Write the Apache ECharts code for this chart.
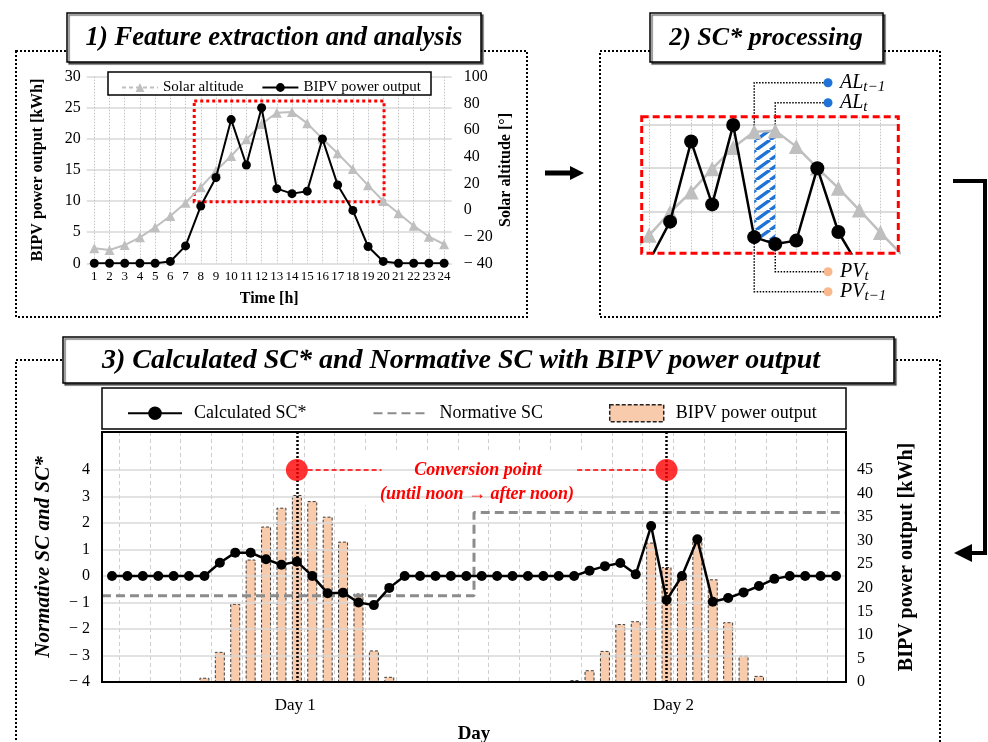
<!DOCTYPE html>
<html><head><meta charset="utf-8">
<script src="https://cdn.jsdelivr.net/npm/echarts@6/dist/echarts.min.js"></script>
<style>html,body{margin:0;padding:0;background:#fff}#c{width:988px;height:742px}</style>
</head><body><div id="c"></div>
<script>
// ---------------- DATA ----------------
// Panel 1: hourly values of one day
const hours = ['1','2','3','4','5','6','7','8','9','10','11','12','13','14','15','16','17','18','19','20','21','22','23','24'];
const solarAltitude = [-28.7,-30,-26.3,-20.5,-13,-4.5,5.5,17,29.5,40.5,53,64.5,73,73.6,65,53.5,42.5,30.7,18.5,6.7,-2.5,-11.8,-20,-25.7];
const bipvHourly = [0,0,0,0,0,0.3,2.8,9.2,13.8,23.1,15.8,25.0,12.0,11.2,11.6,20.0,12.6,8.5,2.7,0.3,0,0,0,0];
// Panel 3: two days, hourly
const scStar = [0,0,0,0,0,0,0,0.5,0.88,0.88,0.63,0.42,0.54,0,-0.65,-0.63,-1.0,-1.1,-0.45,0,0,0,0,0,
                0,0,0,0,0,0,0,0.2,0.37,0.49,0.06,1.88,-0.91,0,1.38,-0.97,-0.83,-0.62,-0.38,-0.11,0,0,0,0];
const bipvDaily = [0,0,0,0,0,0,0.9,6.4,16.6,26.0,33.0,37.0,39.7,38.4,35.1,29.8,18.8,6.7,1.1,0,0,0,0,0,
                   0,0,0,0,0,0,0.4,2.5,6.6,12.3,12.9,29.6,24.4,22.0,30.1,21.8,12.7,5.6,1.3,0,0,0,0,0];
const normativeSC = [-0.75, 2.39];
const dayLabels = ['Day 1','Day 2'];
const conversionHours = [12, 36];
const scTicks = [-4,-3,-2,-1,0,1,2,3,4];

// ---------------- SETTINGS ----------------
const SERIF = '"Liberation Serif", "Times New Roman", serif';
const PV_RANGE = [0, 30], ALT_RANGE = [-40, 100];
const toAlt = v => ALT_RANGE[0] + (v - PV_RANGE[0]) / (PV_RANGE[1]-PV_RANGE[0]) * (ALT_RANGE[1]-ALT_RANGE[0]);
const toPV = a => PV_RANGE[0] + (a - ALT_RANGE[0]) / (ALT_RANGE[1]-ALT_RANGE[0]) * (PV_RANGE[1]-PV_RANGE[0]);
const P2X = [6.65, 18.85], P2Y = [10.13, 25.97];
const X3 = [-0.65, 47.65];
const tPrev = 12, tCur = 13;
const minus = v => v < 0 ? '\u2212 ' + Math.abs(v) : String(v);
const LABELS = {p1sa:'Solar altitude', p1pv:'BIPV power output', sc:'Calculated SC*', norm:'Normative SC', p3bipv:'BIPV power output'};

function hatchCanvas(){
  const c = document.createElement('canvas'); c.width = 14; c.height = 10;
  const g = c.getContext('2d'); g.strokeStyle = '#1f73d6'; g.lineWidth = 3.4;
  g.beginPath();
  for (const o of [-14, 0, 14]) { g.moveTo(o, 10); g.lineTo(o + 14, 0); }
  g.stroke(); return c;
}
const HATCH = hatchCanvas();

const labelStyle = (size) => ({color:'#000', fontFamily:SERIF, fontSize:size});
const nameStyle = (size, italic) => ({color:'#000', fontFamily:SERIF, fontSize:size, fontWeight:'bold', fontStyle: italic ? 'italic' : 'normal'});
const hidden = {axisLine:{show:false}, axisTick:{show:false}, axisLabel:{show:false}};

const normPts = [[X3[0], normativeSC[0]], [23.5, normativeSC[0]], [23.5, normativeSC[1]], [X3[1], normativeSC[1]]];

const chart = echarts.init(document.getElementById('c'));
const option = {
  animation:false,
  backgroundColor:'#fff',
  grid:[
    {left:86.7, top:76.7, width:365, height:186.6, outerBoundsMode:'none'},
    {left:641.7, top:116.7, width:256.6, height:136.6, outerBoundsMode:'none'},
    {left:102, top:432, width:744, height:250, outerBoundsMode:'none'}
  ],
  legend:[
    {data:[{name:'p1sa', lineStyle:{type:[4,3]}},{name:'p1pv'}], formatter:n=>LABELS[n], left:116, top:75,
     itemWidth:36, itemHeight:11, itemGap:18, textStyle:labelStyle(15), selectedMode:false},
    {data:[{name:'sc'},
           {name:'norm', itemStyle:{color:'rgba(0,0,0,0)', borderWidth:0}},
           {name:'p3bipv', icon:'rect', itemStyle:{color:'#f8cbad', borderColor:'#222', borderWidth:1.5, borderType:[4,2]}}],
     formatter:n=>LABELS[n], left:122, top:399, itemWidth:54, itemHeight:17, itemGap:66,
     textStyle:Object.assign(labelStyle(18),{padding:[0,0,0,7]}), selectedMode:false}
  ],
  xAxis:[
    {type:'value', gridIndex:0, min:-0.5, max:23.5, minInterval:1, maxInterval:1,
     axisLine:{show:false}, axisTick:{show:false},
     axisLabel:Object.assign(labelStyle(13),{margin:7, showMinLabel:false, showMaxLabel:false,
       formatter:v=>(Number.isInteger(v) && hours[v]!==undefined) ? hours[v] : ''}),
     splitLine:{show:true, showMinLine:false, showMaxLine:false, lineStyle:{color:'#c4c4c4', type:[1.5,1.5], width:1}},
     name:'Time [h]', nameLocation:'middle', nameGap:28, nameTextStyle:nameStyle(16)},
    {type:'value', gridIndex:1, min:P2X[0], max:P2X[1], minInterval:1, maxInterval:1, ...hidden,
     splitLine:{show:true, showMinLine:false, showMaxLine:false, lineStyle:{color:'#c4c4c4', type:[1.5,1.5], width:1}}},
    {type:'value', gridIndex:2, min:X3[0], max:X3[1], axisLine:{show:false}, axisTick:{show:false},
     axisLabel:Object.assign(labelStyle(17),{margin:15, customValues:[11.9, 36.45], formatter:v=>dayLabels[Math.floor(v/24)]}),
     splitLine:{show:false}, name:'Day', nameLocation:'middle', nameGap:43, nameTextStyle:nameStyle(19)},
    {type:'value', gridIndex:2, min:X3[0]-0.45, max:X3[1]-0.45, minInterval:2, maxInterval:2, position:'top', ...hidden,
     splitLine:{show:true, showMinLine:false, showMaxLine:false, lineStyle:{color:'#cfcfcf', type:[4,3], width:1}}}
  ],
  yAxis:[
    {type:'value', gridIndex:0, position:'left', min:PV_RANGE[0], max:PV_RANGE[1], interval:5,
     axisLine:{show:false}, axisTick:{show:false}, axisLabel:Object.assign(labelStyle(16),{margin:6}),
     splitLine:{lineStyle:{color:'#d9d9d9', width:1.5}},
     name:'BIPV power output [kWh]', nameLocation:'middle', nameGap:41, nameRotate:90, nameTextStyle:nameStyle(16)},
    {type:'value', gridIndex:0, position:'right', min:ALT_RANGE[0], max:ALT_RANGE[1], interval:20,
     axisLine:{show:false}, axisTick:{show:false}, axisLabel:Object.assign(labelStyle(16),{margin:12, formatter:minus}),
     splitLine:{show:false},
     name:'Solar altitude [\u00b0]', nameLocation:'middle', nameGap:46, nameRotate:90, nameTextStyle:nameStyle(16)},
    {type:'value', gridIndex:1, min:P2Y[0], max:P2Y[1], minInterval:5, maxInterval:5, ...hidden,
     splitLine:{show:true, showMinLine:false, showMaxLine:false, lineStyle:{color:'#d0d0d0', width:1.5}}},
    {type:'value', gridIndex:1, position:'right', min:toAlt(P2Y[0]), max:toAlt(P2Y[1]), show:false},
    {type:'value', gridIndex:2, position:'left', min:-4, max:5.43, interval:1,
     axisLine:{show:false}, axisTick:{show:false},
     axisLabel:Object.assign(labelStyle(16),{margin:12, formatter:v=>v>4.5?'':minus(v)}),
     splitLine:{show:false},
     name:'Normative SC and SC*', nameLocation:'middle', nameGap:48, nameRotate:90, nameTextStyle:nameStyle(21,true)},
    {type:'value', gridIndex:2, position:'right', min:0, max:53.07, interval:5,
     axisLine:{show:false}, axisTick:{show:false},
     axisLabel:Object.assign(labelStyle(16),{margin:11, formatter:v=>v>45.5?'':String(v)}),
     splitLine:{show:false},
     name:'BIPV power output [kWh]', nameLocation:'middle', nameGap:51, nameRotate:90, nameTextStyle:nameStyle(20)}
  ],
  series:[
    {name:'p1sa', type:'line', xAxisIndex:0, yAxisIndex:1, data:solarAltitude.map((v,i)=>[i,v]),
     symbol:'triangle', symbolSize:10, color:'#bfbfbf', itemStyle:{color:'#bfbfbf'}, lineStyle:{color:'#bfbfbf', width:2}, z:3},
    {name:'p1pv', type:'line', xAxisIndex:0, yAxisIndex:0, data:bipvHourly.map((v,i)=>[i,v]),
     symbol:'circle', symbolSize:9, color:'#000', itemStyle:{color:'#000'}, lineStyle:{color:'#000', width:2}, z:4,
     markArea:{silent:true, itemStyle:{color:'rgba(0,0,0,0)', borderColor:'#ff0000', borderWidth:3, borderType:[3,3]},
       data:[[{coord:[6.57,26.1]},{coord:[19.05,9.9]}]]}},
    {name:'p2sa', type:'line', xAxisIndex:1, yAxisIndex:3, data:solarAltitude.map((v,i)=>[i,v]),
     symbol:'triangle', symbolSize:15, itemStyle:{color:'#bfbfbf'}, lineStyle:{color:'#bfbfbf', width:2.5}, z:3},
    {name:'p2pv', type:'line', xAxisIndex:1, yAxisIndex:2, data:bipvHourly.map((v,i)=>[i,v]),
     symbol:'circle', symbolSize:14, itemStyle:{color:'#000'}, lineStyle:{color:'#000', width:2.5}, z:4},
    {name:'hatch', type:'custom', xAxisIndex:1, yAxisIndex:2, data:[[tPrev, 0]], silent:true, z:2,
     renderItem:(params, api)=>({type:'polygon', shape:{points:[
        api.coord([tPrev, toPV(solarAltitude[tPrev])]), api.coord([tCur, toPV(solarAltitude[tCur])]),
        api.coord([tCur, bipvHourly[tCur]]), api.coord([tPrev, bipvHourly[tPrev]])]},
        style:{fill:{image:HATCH, repeat:'repeat'}, stroke:null}})},
    // horizontal grid lines of panel 3 (only at labelled SC ticks)
    {name:'grid3', type:'line', xAxisIndex:2, yAxisIndex:4, data:[[0, 0]], symbol:'none', silent:true, z:0,
     lineStyle:{opacity:0},
     markLine:{silent:true, symbol:['none','none'], label:{show:false},
       lineStyle:{color:'#d9d9d9', type:'solid', width:1.5},
       data:scTicks.slice(1).map(v=>({yAxis:v}))}},
    {name:'p3bipv', type:'bar', xAxisIndex:2, yAxisIndex:5, data:bipvDaily.map((v,i)=>[i,v]), barWidth:10,
     itemStyle:{color:'#f8cbad', borderColor:'#3a3a3a', borderWidth:1, borderType:[3,2]}, z:2},
    {name:'norm', type:'line', xAxisIndex:2, yAxisIndex:4, data:normPts, symbol:'none',
     lineStyle:{color:'#8c8c8c', width:3, type:[9,5]}, itemStyle:{color:'#8c8c8c'}, z:3},
    {name:'convLines', type:'line', xAxisIndex:2, yAxisIndex:4, data:conversionHours.map(h=>[h,4]), symbol:'none',
     lineStyle:{opacity:0}, z:4, silent:true,
     markLine:{silent:true, symbol:['none','none'], label:{show:false},
       data:[
         ...conversionHours.map(h=>({xAxis:h, lineStyle:{color:'#000', type:[2,2], width:2.5}})),
         [{coord:[conversionHours[0]+0.7,4], lineStyle:{color:'#ff0000', type:[5,3], width:1.5}},{coord:[conversionHours[0]+5.5,4]}],
         [{coord:[conversionHours[1]-5.8,4], lineStyle:{color:'#ff0000', type:[5,3], width:1.5}},{coord:[conversionHours[1]-0.7,4]}]
       ]}},
    {name:'sc', type:'line', xAxisIndex:2, yAxisIndex:4, data:scStar.map((v,i)=>[i,v]),
     symbol:'circle', symbolSize:10, color:'#000', itemStyle:{color:'#000'}, lineStyle:{color:'#000', width:2.5}, z:5},
    {name:'conv', type:'scatter', xAxisIndex:2, yAxisIndex:4, data:conversionHours.map(h=>[h,4]),
     symbolSize:22, itemStyle:{color:'#ff0000'}, z:6}
  ]
};
chart.setOption(option);

// ---------------- GRAPHIC ANNOTATIONS ----------------
const G = [];
const dottedBox = (x,y,w,h) => ({type:'rect', silent:true, z:0, shape:{x,y,width:w,height:h}, style:{fill:'none', stroke:'#000', lineWidth:2, lineDash:[2,2]}});
const titleBox = (x,y,w,h) => ({type:'rect', silent:true, z:20, shape:{x,y,width:w,height:h},
  style:{fill:'#fff', stroke:'#000', lineWidth:1.5, shadowColor:'rgba(0,0,0,0.55)', shadowOffsetX:2, shadowOffsetY:2, shadowBlur:1}});
const title = (x,y,t,s) => ({type:'text', silent:true, z:21, x, y, style:{text:t, font:'italic bold '+s+'px "Liberation Serif"', fill:'#000', align:'center', verticalAlign:'middle'}});

G.push(dottedBox(16,51,511,266), dottedBox(600,51,340,266), dottedBox(16,360,924,420));
G.push(titleBox(67,13,414,49), title(274,38,'1) Feature extraction and analysis',26.6));
G.push(titleBox(650,13,233,49), title(766,38,'2) SC* processing',26));
G.push(titleBox(63,337,831,46), title(461,361,'3) Calculated SC* and Normative SC with BIPV power output',28));
// legend boxes & plot border
G.push({type:'rect', silent:true, z:1, shape:{x:108,y:72,width:323,height:23}, style:{fill:'#fff', stroke:'#000', lineWidth:1.5}});
G.push({type:'rect', silent:true, z:1, shape:{x:102,y:388,width:744,height:41}, style:{fill:'#fff', stroke:'#000', lineWidth:1.5}});
G.push({type:'rect', silent:true, z:10, shape:{x:102,y:432,width:744,height:250}, style:{fill:'none', stroke:'#000', lineWidth:2}});
// panel 2 red frame
G.push({type:'rect', silent:true, z:10, shape:{x:641.7,y:116.7,width:256.6,height:136.6}, style:{fill:'none', stroke:'#ff0000', lineWidth:3, lineDash:[7,4]}});
// conversion text
G.push({type:'rect', silent:true, z:1, shape:{x:353,y:453,width:250,height:52}, style:{fill:'#fff'}});
G.push({type:'text', silent:true, z:12, x:478, y:470, style:{text:'Conversion point', font:'italic bold 18px "Liberation Serif"', fill:'#ff0000', align:'center', verticalAlign:'middle'}});
G.push({type:'text', silent:true, z:12, x:477, y:494, style:{text:'(until noon \u2192 after noon)', font:'italic bold 18px "Liberation Serif"', fill:'#ff0000', align:'center', verticalAlign:'middle'}});
// arrows
G.push({type:'polygon', silent:true, z:5, shape:{points:[[545,170.5],[570,170.5],[570,166],[584,173],[570,180],[570,175.5],[545,175.5]]}, style:{fill:'#000'}});
G.push({type:'polyline', silent:true, z:5, shape:{points:[[953,181],[985,181],[985,553],[970,553]]}, style:{stroke:'#000', lineWidth:4, fill:'none'}});
G.push({type:'polygon', silent:true, z:5, shape:{points:[[972,544],[954,553],[972,562]]}, style:{fill:'#000'}});

// leader lines in panel 2
const pA = k => chart.convertToPixel({xAxisIndex:1, yAxisIndex:3}, [k, solarAltitude[k]]);
const pP = k => chart.convertToPixel({xAxisIndex:1, yAxisIndex:2}, [k, bipvHourly[k]]);
const leaders = [
  {p:pA(tPrev), y:82.7, c:'#1f73d6', m:'AL', s:'t\u22121'},
  {p:pA(tCur), y:102.7, c:'#1f73d6', m:'AL', s:'t'},
  {p:pP(tCur), y:271.7, c:'#f8b88b', m:'PV', s:'t'},
  {p:pP(tPrev), y:291.7, c:'#f8b88b', m:'PV', s:'t\u22121'}
];
const rich = {
  m:{fontFamily:'Liberation Serif', fontStyle:'italic', fontSize:20, fill:'#000', color:'#000', lineHeight:23, verticalAlign:'middle'},
  s:{fontFamily:'Liberation Serif', fontStyle:'italic', fontSize:15, fill:'#000', color:'#000', lineHeight:13, verticalAlign:'bottom'}
};
leaders.forEach(L => {
  G.push({type:'polyline', silent:true, z:1, shape:{points:[[L.p[0],L.p[1]],[L.p[0],L.y],[826,L.y]]}, style:{stroke:'#000', lineWidth:1.5, lineDash:[1.5,1.5], fill:'none'}});
  G.push({type:'circle', silent:true, z:6, shape:{cx:828, cy:L.y, r:4.5}, style:{fill:L.c}});
  G.push({type:'text', silent:true, z:6, x:840, y:L.y, style:{text:'{m|'+L.m+'}{s|'+L.s+'}', rich, align:'left', verticalAlign:'middle'}});
});

chart.setOption({graphic:{elements:G}});
</script></body></html>
